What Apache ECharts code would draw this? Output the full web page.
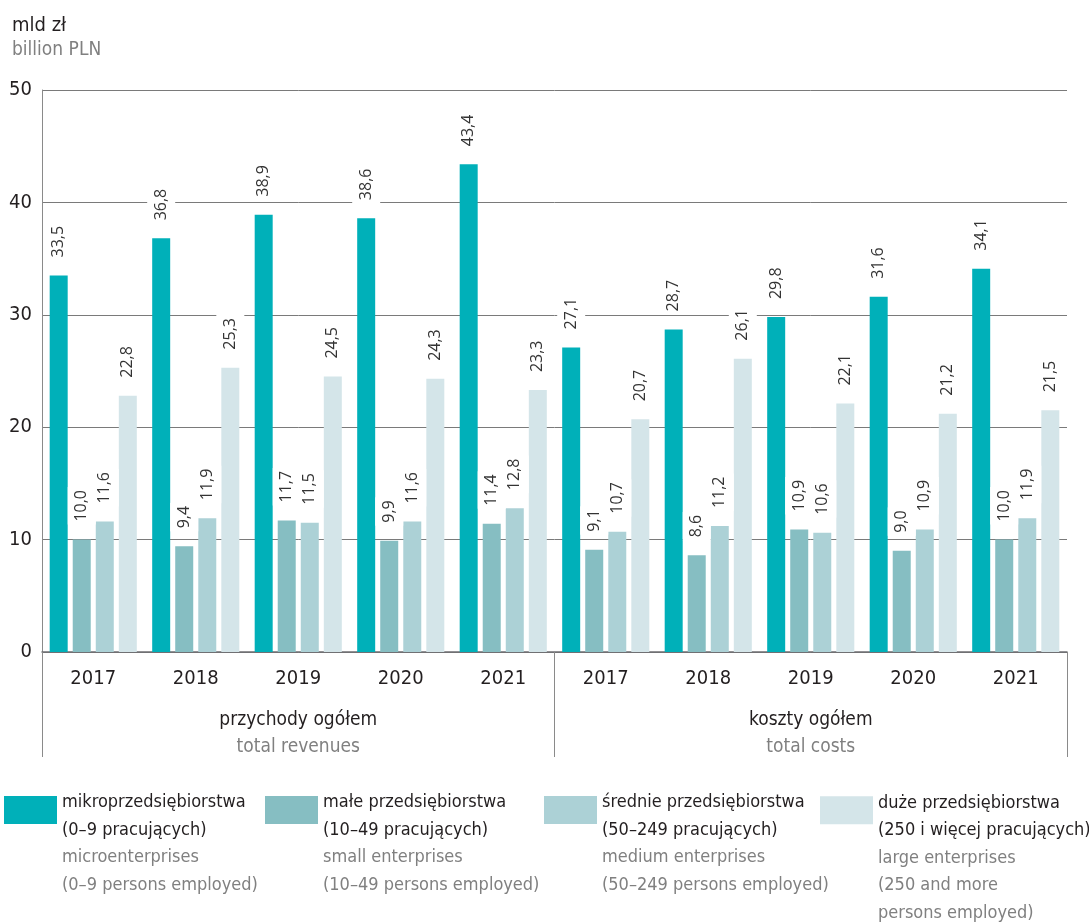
<!DOCTYPE html>
<html>
<head>
<meta charset="utf-8">
<script src="https://cdn.jsdelivr.net/npm/echarts@6/dist/echarts.min.js"></script>
<style>
  html, body { margin: 0; padding: 0; background: #fff; }
  #wykres { width: 1089px; height: 924px; }
</style>
</head>
<body>
<div id="wykres"></div>
<script>
// Dane z wykresu: przychody i koszty według klas wielkości (mld zł)
const lata = ['2017', '2018', '2019', '2020', '2021'];
const kategorie = lata.concat(lata);
const grupy = ['przychody ogółem', 'koszty ogółem'];
const grupyEn = ['total revenues', 'total costs'];

const mikro   = [33.5, 36.8, 38.9, 38.6, 43.4, 27.1, 28.7, 29.8, 31.6, 34.1];
const male    = [10.0, 9.4, 11.7, 9.9, 11.4, 9.1, 8.6, 10.9, 9.0, 10.0];
const srednie = [11.6, 11.9, 11.5, 11.6, 12.8, 10.7, 11.2, 10.6, 10.9, 11.9];
const duze    = [22.8, 25.3, 24.5, 24.3, 23.3, 20.7, 26.1, 22.1, 21.2, 21.5];

const nazwy = ['mikro', 'male', 'srednie', 'duze'];
const opisyPl = [
  ['mikroprzedsiębiorstwa', '(0–9 pracujących)'],
  ['małe przedsiębiorstwa', '(10–49 pracujących)'],
  ['średnie przedsiębiorstwa', '(50–249 pracujących)'],
  ['duże przedsiębiorstwa', '(250 i więcej pracujących)']
];
const opisyEn = [
  ['microenterprises', '(0–9 persons employed)'],
  ['small enterprises', '(10–49 persons employed)'],
  ['medium enterprises', '(50–249 persons employed)'],
  ['large enterprises', '(250 and more', 'persons employed)']
];
const kolory = ['#00b0b9', '#86bec2', '#acd1d6', '#d4e5e9'];

const czcionka = "'Liberation Sans Narrow', 'DejaVu Sans Condensed', sans-serif";
const ciemny = '#231f20';
const szary = '#808080';
const wysLinii = 27.5;

const wykres = echarts.init(document.getElementById('wykres'));

// Serie słupków z etykietami obróconymi o 90 stopni
function seria(i, dane) {
  return {
    name: nazwy[i],
    type: 'bar',
    data: dane,
    barWidth: 18,
    barGap: '28%',
    itemStyle: { color: kolory[i] },
    label: {
      show: true,
      position: 'top',
      rotate: 90,
      align: 'left',
      verticalAlign: 'middle',
      distance: 15,
      fontFamily: "'Open Sans', sans-serif",
      fontSize: 16,
      color: '#333',
      backgroundColor: '#fff',
      padding: [6, 3, 6, 3],
      formatter: p => p.value.toFixed(1).replace('.', ',')
    }
  };
}

// Legenda: osobny komponent dla każdej pozycji.
// Tekst jest centrowany względem ikony, więc dodajemy pustą linię na górze,
// żeby pierwsza linia tekstu wypadła na wysokości ikony.
const pozycjeLegendy = [4, 265, 544, 820];
const legendy = nazwy.map((n, i) => {
  const linieEn = opisyEn[i];
  const H = (2 + linieEn.length) * wysLinii;
  const L = H - 42;
  const gora = linieEn.length === 3 ? 739.5 : 753;
  return {
    data: [n],
    left: pozycjeLegendy[i],
    top: gora,
    padding: 0,
    icon: 'rect',
    itemWidth: 53,
    itemHeight: 28,
    selectedMode: false,
    formatter: () => ['{s| }'].concat(opisyPl[i].map(t => '{a|' + t + '}'))
      .concat(linieEn.map(t => '{b|' + t + '}')).join('\n'),
    textStyle: {
      rich: {
        s: { fontSize: 4, lineHeight: L },
        a: { fontFamily: czcionka, fontSize: 18, color: ciemny, lineHeight: wysLinii },
        b: { fontFamily: czcionka, fontSize: 18, color: szary, lineHeight: wysLinii }
      }
    }
  };
});

const opcje = {
  animation: false,
  backgroundColor: '#fff',
  title: {
    text: 'mld zł',
    subtext: 'billion PLN',
    left: 7,
    top: 11,
    itemGap: 5,
    textStyle: { fontFamily: czcionka, fontSize: 20, fontWeight: 'normal', color: ciemny },
    subtextStyle: { fontFamily: czcionka, fontSize: 19, color: szary }
  },
  legend: legendy,
  grid: { left: 42, right: 22, top: 90, bottom: 272 },
  xAxis: [
    {
      type: 'category',
      data: kategorie,
      axisLine: { show: true, lineStyle: { color: '#6d6e71', width: 1.5 } },
      axisTick: { show: false },
      axisLabel: { margin: 17, fontFamily: czcionka, fontSize: 20, color: ciemny }
    },
    {
      type: 'category',
      data: grupy,
      position: 'bottom',
      axisLine: { show: false },
      axisTick: { show: true, length: 105, interval: 0, lineStyle: { color: '#8a8a8a' } },
      axisLabel: {
        margin: 55,
        interval: 0,
        formatter: (v, idx) => '{a|' + v + '}\n{b|' + grupyEn[idx] + '}',
        rich: {
          a: { fontFamily: czcionka, fontSize: 19, color: ciemny, lineHeight: 27 },
          b: { fontFamily: czcionka, fontSize: 19, color: szary, lineHeight: 27 }
        }
      }
    }
  ],
  yAxis: {
    type: 'value',
    min: 0,
    max: 50,
    interval: 10,
    axisLine: { show: true, lineStyle: { color: '#8a8a8a' } },
    axisTick: { show: false },
    splitLine: { lineStyle: { color: '#7a7a7a', width: 1 } },
    axisLabel: { margin: 10, fontFamily: czcionka, fontSize: 20, color: ciemny }
  },
  series: [
    seria(0, mikro),
    seria(1, male),
    seria(2, srednie),
    seria(3, duze)
  ]
};

wykres.setOption(opcje);
</script>
</body>
</html>
